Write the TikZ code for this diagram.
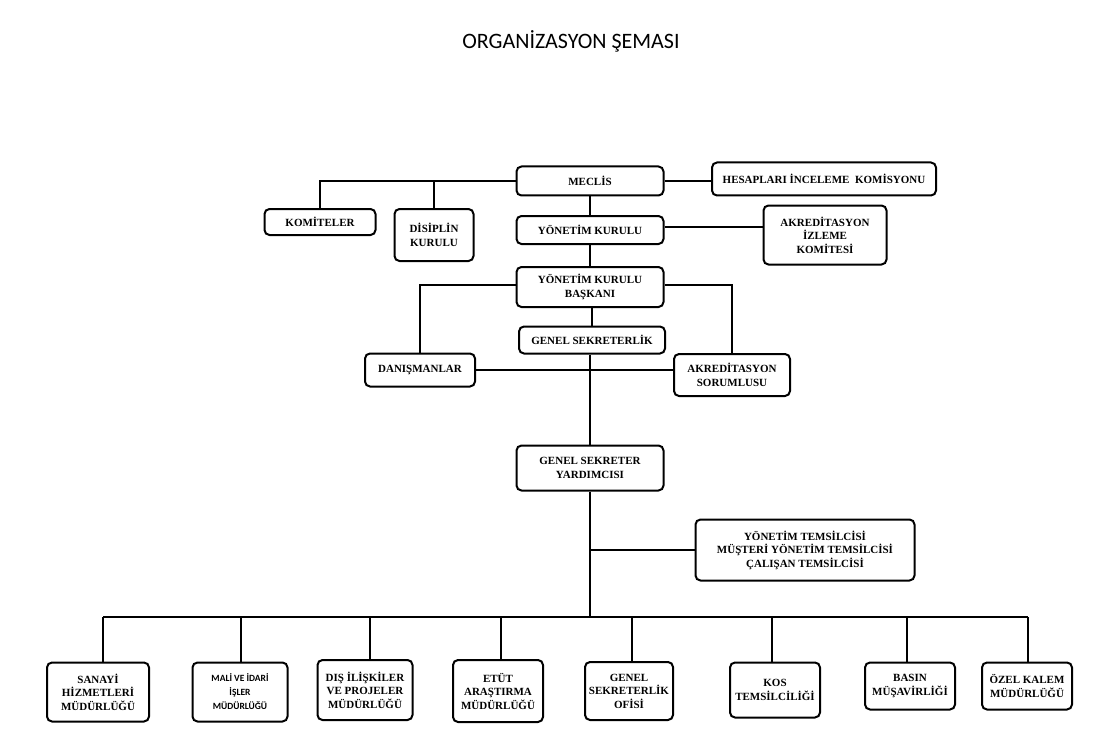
\documentclass[tikz,border=0pt]{standalone}
\usepackage{fontspec}
\setmainfont{Liberation Serif}
\newfontfamily\calibri{Carlito}
\begin{document}
\begin{tikzpicture}[x=1pt,y=-1pt,
  box/.style={draw, rounded corners=5pt, line width=2pt, align=center, inner sep=0pt,
    font=\fontsize{11}{13.5}\selectfont\bfseries},
  conn/.style={line width=2pt},
  titlefont/.style={font=\calibri\fontsize{22}{26}\selectfont}]
\useasboundingbox (0,0) rectangle (1117,741);
\node[titlefont] (title) at (571,41) {ORGANİZASYON ŞEMASI};

\node[box, minimum width=147pt, minimum height=29pt] (meclis) at (590,181) {MECLİS};
\node[box, minimum width=224pt, minimum height=33pt] (hesap) at (824,179) {HESAPLARI İNCELEME\ \ KOMİSYONU};
\node[box, minimum width=111pt, minimum height=26pt] (komite) at (320,222) {KOMİTELER};
\node[box, minimum width=79pt, minimum height=52pt] (disiplin) at (434,235) {DİSİPLİN\\KURULU};
\node[box, minimum width=147pt, minimum height=28pt] (yk) at (590,230) {YÖNETİM KURULU};
\node[box, minimum width=123pt, minimum height=59pt] (akrizl) at (825,235) {AKREDİTASYON\\İZLEME\\KOMİTESİ};
\node[box, minimum width=147pt, minimum height=40pt] (ykb) at (590,287) {YÖNETİM KURULU\\BAŞKANI};
\node[box, minimum width=146pt, minimum height=27pt] (gs) at (592,340) {GENEL SEKRETERLİK};
\node[box, minimum width=110pt, minimum height=33pt] (dan) at (420,370) {DANIŞMANLAR};
\node[box, minimum width=116pt, minimum height=42pt] (akrsor) at (732,375) {AKREDİTASYON\\SORUMLUSU};
\node[box, minimum width=147pt, minimum height=45pt] (gsy) at (590,468) {GENEL SEKRETER\\YARDIMCISI};
\node[box, minimum width=219pt, minimum height=61pt] (temsil) at (805,550) {YÖNETİM TEMSİLCİSİ\\MÜŞTERİ YÖNETİM TEMSİLCİSİ\\ÇALIŞAN TEMSİLCİSİ};

\node[box, minimum width=102pt, minimum height=59pt] (s1) at (98,692) {SANAYİ\\HİZMETLERİ\\MÜDÜRLÜĞÜ};
\node[box, minimum width=95pt, minimum height=59pt, font=\calibri\fontsize{9.5}{14}\selectfont\bfseries] (s2) at (240,692) {MALİ VE İDARİ\\İŞLER\\MÜDÜRLÜĞÜ};
\node[box, minimum width=95pt, minimum height=60pt] (s3) at (365,690) {DIŞ İLİŞKİLER\\VE PROJELER\\MÜDÜRLÜĞÜ};
\node[box, minimum width=90pt, minimum height=62pt] (s4) at (498,691) {ETÜT\\ARAŞTIRMA\\MÜDÜRLÜĞÜ};
\node[box, minimum width=88pt, minimum height=58pt] (s5) at (629,691) {GENEL\\SEKRETERLİK\\OFİSİ};
\node[box, minimum width=90pt, minimum height=55pt] (s6) at (775,690) {KOS\\TEMSİLCİLİĞİ};
\node[box, minimum width=90pt, minimum height=47pt] (s7) at (910,686) {BASIN\\MÜŞAVİRLİĞİ};
\node[box, minimum width=90pt, minimum height=47pt] (s8) at (1027,686) {ÖZEL KALEM\\MÜDÜRLÜĞÜ};

% upper connectors
\draw[conn] (meclis.west) -- (meclis.west -| komite.north) -- (komite.north);
\draw[conn] (disiplin.north) -- (disiplin.north |- meclis.west);
\draw[conn] (meclis.east) -- (meclis.east -| hesap.west);
\draw[conn] (meclis.south) -- (yk.north);
\draw[conn] ([yshift=3pt]yk.east) -- ([yshift=3pt]yk.east -| akrizl.west);
\draw[conn] (yk.south) -- (ykb.north);
\draw[conn] ([yshift=2pt]ykb.west) -- ([yshift=2pt]ykb.west -| dan.north) -- (dan.north);
\draw[conn] ([yshift=2pt]ykb.east) -- ([yshift=2pt]ykb.east -| akrsor.north) -- (akrsor.north);
\draw[conn] (ykb.south -| gs.north) -- (gs.north);
\draw[conn] (gs.south -| gsy.north) -- (gsy.north);
\draw[conn] (dan.east) -- (dan.east -| akrsor.west);

% lower connectors
\coordinate (bus) at (590,617);
\coordinate (busL) at (103,617);
\coordinate (busR) at (1028,617);
\draw[conn] (gsy.south) -- (bus);
\draw[conn] (gsy.south |- temsil.west) -- (temsil.west);
\draw[conn] (busL) -- (busR);
\coordinate (d1) at (103,617);
\coordinate (d2) at (241,617);
\coordinate (d3) at (370,617);
\coordinate (d4) at (501,617);
\coordinate (d5) at (632,617);
\coordinate (d6) at (772,617);
\coordinate (d7) at (907,617);
\coordinate (d8) at (1028,617);
\foreach \i in {1,...,8} {
  \draw[conn] (d\i) -- (d\i |- s\i.north);
}
\end{tikzpicture}
\end{document}
